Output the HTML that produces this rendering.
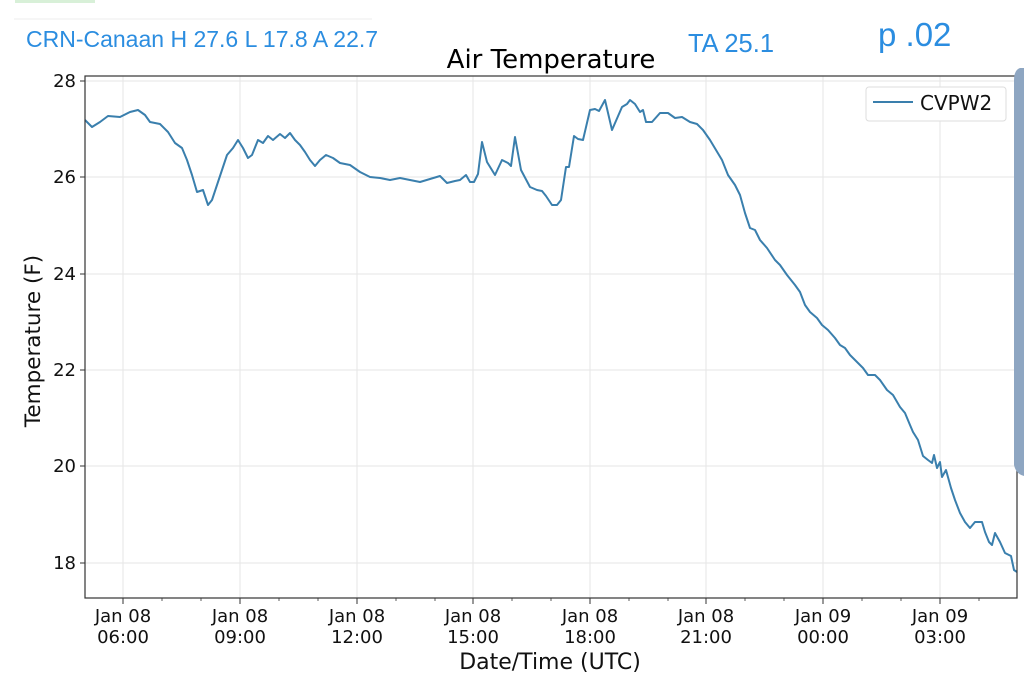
<!DOCTYPE html>
<html><head><meta charset="utf-8"><style>
body{margin:0;background:#fff;width:1024px;height:684px;overflow:hidden;font-family:"DejaVu Sans","Liberation Sans",sans-serif}
</style></head><body>
<svg width="1024" height="684" xmlns="http://www.w3.org/2000/svg" style="position:absolute;left:0;top:0">
<rect x="15" y="0" width="80" height="3" fill="#d8f0d8"/>
<line x1="14" y1="19" x2="372" y2="19" stroke="#eee"/>
<text x="26" y="47" font-family="Liberation Sans,sans-serif" font-size="23" fill="#2b8de0">CRN-Canaan H 27.6 L 17.8 A 22.7</text>
<text x="688" y="52" font-family="Liberation Sans,sans-serif" font-size="25.5" fill="#2b8de0">TA 25.1</text>
<text x="878" y="46" font-family="Liberation Sans,sans-serif" font-size="33" fill="#2b8de0">p .02</text>
<text x="551" y="68" text-anchor="middle" font-size="26" fill="#000">Air Temperature</text>
<g stroke="#e6e6e6" stroke-width="1">
<line x1="123" y1="76" x2="123" y2="598"/><line x1="240" y1="76" x2="240" y2="598"/><line x1="357" y1="76" x2="357" y2="598"/><line x1="473" y1="76" x2="473" y2="598"/><line x1="590" y1="76" x2="590" y2="598"/><line x1="706" y1="76" x2="706" y2="598"/><line x1="823" y1="76" x2="823" y2="598"/><line x1="940" y1="76" x2="940" y2="598"/>
<line x1="85" y1="81" x2="1017" y2="81"/><line x1="85" y1="177" x2="1017" y2="177"/><line x1="85" y1="274" x2="1017" y2="274"/><line x1="85" y1="370" x2="1017" y2="370"/><line x1="85" y1="466" x2="1017" y2="466"/><line x1="85" y1="563" x2="1017" y2="563"/>
</g>
<polyline fill="none" stroke="#3a7fad" stroke-width="2" stroke-linejoin="round" points="85,120 92,127 100,122 108,116 120,117 130,112 138,110 145,115 150,122 160,124 168,132 175,143 182,148 187,160 192,175 197,192 203,190 208,205 212,200 217,185 222,170 227,155 233,148 238,140 243,148 248,158 252,155 258,140 263,143 268,136 273,140 280,134 285,138 290,133 295,140 300,145 305,152 310,160 315,166 320,160 326,155 333,158 340,163 350,165 360,172 370,177 380,178 390,180 400,178 410,180 420,182 430,179 440,176 447,183 455,181 460,180 466,175 470,182 474,182 478,174 482,142 487,162 495,175 502,160 508,163 511,166 515,137 521,170 530,187 537,190 542,191 546,196 552,205 557,205 561,200 566,167 569,167 574,136 578,139 583,140 590,110 595,109 599,111 605,100 612,130 622,107 627,104 630,100 635,104 640,112 643,110 646,122 652,122 660,113 668,113 675,118 682,117 690,122 697,124 703,130 710,140 716,150 722,160 728,175 735,185 740,195 745,213 750,228 755,230 760,240 767,248 775,260 780,265 787,275 795,285 800,292 805,305 810,312 817,318 822,325 828,330 835,338 840,345 845,348 850,355 857,362 863,368 868,375 875,375 880,380 887,390 893,395 900,407 905,413 910,425 913,432 918,440 923,456 928,460 932,463 934,455 937,468 940,462 942,477 946,470 951,488 955,500 960,513 965,522 970,528 975,522 982,522 985,532 989,542 992,545 995,533 1000,542 1005,553 1011,556 1014,570 1017,572"/>
<rect x="85" y="76" width="932" height="522" fill="none" stroke="#333" stroke-width="1.2"/>
<g stroke="#333" stroke-width="1">
<line x1="80" y1="81" x2="85" y2="81"/><line x1="80" y1="177" x2="85" y2="177"/><line x1="80" y1="274" x2="85" y2="274"/><line x1="80" y1="370" x2="85" y2="370"/><line x1="80" y1="466" x2="85" y2="466"/><line x1="80" y1="563" x2="85" y2="563"/>
<line x1="123" y1="598" x2="123" y2="604"/><line x1="240" y1="598" x2="240" y2="604"/><line x1="357" y1="598" x2="357" y2="604"/><line x1="473" y1="598" x2="473" y2="604"/><line x1="590" y1="598" x2="590" y2="604"/><line x1="706" y1="598" x2="706" y2="604"/><line x1="823" y1="598" x2="823" y2="604"/><line x1="940" y1="598" x2="940" y2="604"/>
</g>
<g stroke="#333" stroke-width="0.8">
<line x1="162" y1="598" x2="162" y2="601"/><line x1="201" y1="598" x2="201" y2="601"/><line x1="279" y1="598" x2="279" y2="601"/><line x1="318" y1="598" x2="318" y2="601"/><line x1="396" y1="598" x2="396" y2="601"/><line x1="435" y1="598" x2="435" y2="601"/><line x1="512" y1="598" x2="512" y2="601"/><line x1="551" y1="598" x2="551" y2="601"/><line x1="629" y1="598" x2="629" y2="601"/><line x1="668" y1="598" x2="668" y2="601"/><line x1="745" y1="598" x2="745" y2="601"/><line x1="784" y1="598" x2="784" y2="601"/><line x1="862" y1="598" x2="862" y2="601"/><line x1="901" y1="598" x2="901" y2="601"/><line x1="979" y1="598" x2="979" y2="601"/>
</g>
<g font-size="18" fill="#111" text-anchor="end">
<text x="76" y="87">28</text><text x="76" y="183">26</text><text x="76" y="280">24</text><text x="76" y="376">22</text><text x="76" y="472">20</text><text x="76" y="569">18</text>
</g>
<g font-size="18" fill="#111" text-anchor="middle">
<text x="123" y="622">Jan 08</text><text x="123" y="643">06:00</text>
<text x="240" y="622">Jan 08</text><text x="240" y="643">09:00</text>
<text x="357" y="622">Jan 08</text><text x="357" y="643">12:00</text>
<text x="473" y="622">Jan 08</text><text x="473" y="643">15:00</text>
<text x="590" y="622">Jan 08</text><text x="590" y="643">18:00</text>
<text x="706" y="622">Jan 08</text><text x="706" y="643">21:00</text>
<text x="823" y="622">Jan 09</text><text x="823" y="643">00:00</text>
<text x="940" y="622">Jan 09</text><text x="940" y="643">03:00</text>
</g>
<text x="550" y="669" text-anchor="middle" font-size="22" fill="#111">Date/Time (UTC)</text>
<text transform="translate(40,341) rotate(-90)" text-anchor="middle" font-size="21.5" fill="#111">Temperature (F)</text>
<rect x="866" y="87" width="140" height="34" rx="3" fill="#fff" stroke="#ddd"/>
<line x1="873" y1="102" x2="913" y2="102" stroke="#3a7fad" stroke-width="2"/>
<text x="920" y="110" font-size="20" fill="#111">CVPW2</text>
<path d="M1024,68 L1020,68 Q1014,70 1014,80 L1014,465 Q1016,474 1024,476 Z" fill="#8ea6c2"/>
</svg>
</body></html>
